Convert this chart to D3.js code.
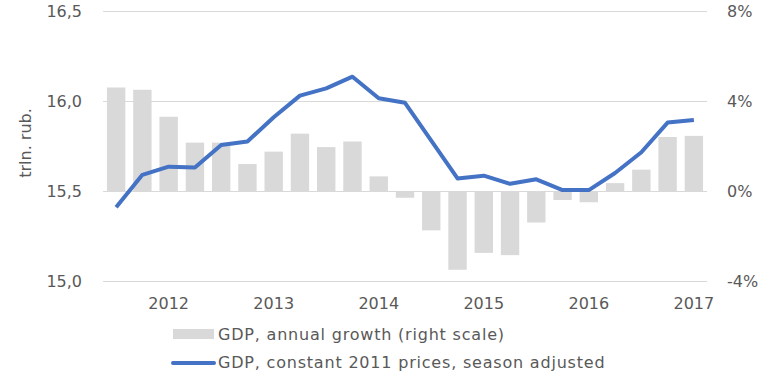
<!DOCTYPE html>
<html>
<head>
<meta charset="utf-8">
<script src="https://d3js.org/d3.v7.min.js"></script>
<style>
  body { margin: 0; background: #fff; }
  text { font-family: "DejaVu Sans", sans-serif; fill: #595959; }
</style>
</head>
<body>
<script>
// quarters, 2011Q3 .. 2017Q1
var quarters = ['2011Q3', '2011Q4',
  '2012Q1', '2012Q2', '2012Q3', '2012Q4',
  '2013Q1', '2013Q2', '2013Q3', '2013Q4',
  '2014Q1', '2014Q2', '2014Q3', '2014Q4',
  '2015Q1', '2015Q2', '2015Q3', '2015Q4',
  '2016Q1', '2016Q2', '2016Q3', '2016Q4',
  '2017Q1'];
// GDP, annual growth, % (right scale)
var growth = [4.6, 4.5, 3.3, 2.15, 2.15, 1.2, 1.75, 2.55, 1.95, 2.2, 0.65,
  -0.3, -1.75, -3.5, -2.75, -2.85, -1.4, -0.4, -0.5, 0.35, 0.95, 2.4, 2.45];
// GDP, constant 2011 prices, season adjusted, trln. rub.
var gdp = [15.41, 15.59, 15.635, 15.63, 15.755, 15.775, 15.91, 16.03, 16.07, 16.135, 16.015,
  15.99, 15.78, 15.57, 15.585, 15.54, 15.565, 15.505, 15.505, 15.60, 15.715, 15.88, 15.895];
var leftTicks = [15.0, 15.5, 16.0, 16.5];
var rightTicks = [-4, 0, 4, 8];
var legendLabels = ['GDP, annual growth (right scale)', 'GDP, constant 2011 prices, season adjusted'];

var width = 764, height = 384;
var mLeft = 103, mRight = 707, mTop = 11, mBottom = 281;
var barColor = '#d9d9d9', lineColor = '#4472c4', gridColor = '#d9d9d9';

var svg = d3.select('body').append('svg').attr('width', width).attr('height', height);

var x = d3.scaleBand().domain(quarters).range([mLeft, mRight]).paddingInner(0.3).paddingOuter(0.15);
var yL = d3.scaleLinear().domain([15, 16.5]).range([mBottom, mTop]);
var yR = d3.scaleLinear().domain([-4, 8]).range([mBottom, mTop]);

function comma(d) { return d3.format('.1f')(d).replace('.', ','); }

// gridlines + left axis
var gl = svg.append('g').attr('transform', 'translate(' + mLeft + ',0)')
  .call(d3.axisLeft(yL).tickValues(leftTicks).tickSize(-(mRight - mLeft)).tickPadding(21).tickFormat(comma));
gl.select('.domain').remove();
gl.selectAll('.tick line').attr('stroke', gridColor);
gl.selectAll('.tick text').attr('font-size', 16).attr('fill', '#595959');

// right axis
var gr = svg.append('g').attr('transform', 'translate(' + mRight + ',0)')
  .call(d3.axisRight(yR).tickValues(rightTicks).tickSize(0).tickPadding(20).tickFormat(function (d) { return d + '%'; }));
gr.select('.domain').remove();
gr.selectAll('.tick text').attr('font-size', 16).attr('fill', '#595959');

// bars
svg.append('g').selectAll('rect').data(growth).enter().append('rect')
  .attr('x', function (d, i) { return x(quarters[i]); })
  .attr('width', x.bandwidth())
  .attr('y', function (d) { return yR(Math.max(0, d)); })
  .attr('height', function (d) { return Math.abs(yR(d) - yR(0)); })
  .attr('fill', barColor);

// line
var line = d3.line()
  .x(function (d, i) { return x(quarters[i]) + x.bandwidth() / 2; })
  .y(function (d) { return yL(d); });
svg.append('path').datum(gdp).attr('d', line)
  .attr('fill', 'none').attr('stroke', lineColor).attr('stroke-width', 4)
  .attr('stroke-linejoin', 'round');

// x axis (year labels at Q1)
var gx = svg.append('g').attr('transform', 'translate(0,' + mBottom + ')')
  .call(d3.axisBottom(x)
    .tickValues(quarters.filter(function (q) { return q.slice(4) === 'Q1'; }))
    .tickSize(0).tickPadding(17)
    .tickFormat(function (q) { return q.slice(0, 4); }));
gx.select('.domain').remove();
gx.selectAll('.tick text').attr('font-size', 16).attr('fill', '#595959');

// y title
svg.append('text').attr('transform', 'translate(31,143) rotate(-90)')
  .attr('text-anchor', 'middle').attr('font-size', 16).text('trln. rub.');

// legend
var lg = svg.append('g');
lg.append('rect').attr('x', 173).attr('y', 329).attr('width', 41).attr('height', 10).attr('fill', barColor);
lg.append('text').attr('x', 218).attr('y', 340).attr('font-size', 16).attr('letter-spacing', 0.8).text(legendLabels[0]);
lg.append('line').attr('x1', 173).attr('x2', 214).attr('y1', 363).attr('y2', 363)
  .attr('stroke', lineColor).attr('stroke-width', 4).attr('stroke-linecap', 'round');
lg.append('text').attr('x', 218).attr('y', 368).attr('font-size', 16).attr('letter-spacing', 0.8).text(legendLabels[1]);
</script>
</body>
</html>
